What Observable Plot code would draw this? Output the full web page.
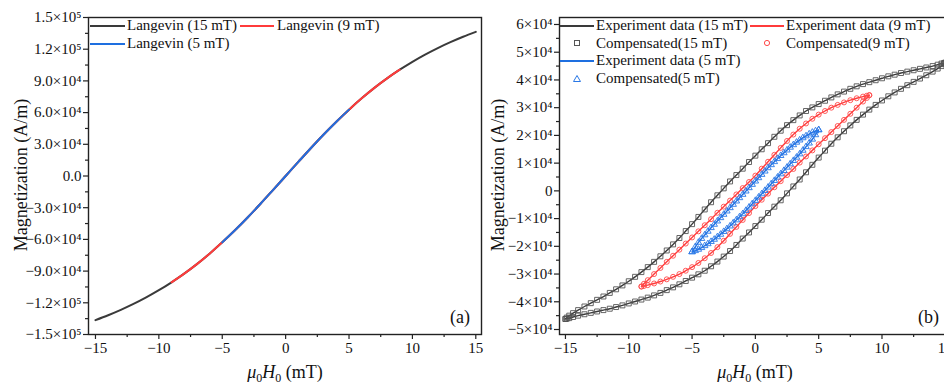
<!DOCTYPE html>
<html>
<head>
<meta charset="utf-8">
<script src="https://cdn.jsdelivr.net/npm/d3@7"></script>
<script src="https://cdn.jsdelivr.net/npm/@observablehq/plot@0.6"></script>
<style>
html, body { margin: 0; padding: 0; background: #fff; overflow: hidden; }
#wrap { position: relative; width: 944px; height: 385px; overflow: hidden; font-family: "Liberation Serif", "Times New Roman", serif; color: #111; }
.panel { position: absolute; top: 0; height: 385px; }
.panel svg { max-width: none !important; }
.yt { position: absolute; font-size: 18px; white-space: nowrap; transform: translate(-50%, -50%) rotate(-90deg); line-height: 1; }
.xt { position: absolute; font-size: 18px; white-space: nowrap; transform: translateX(-50%); line-height: 1; }
.xt sub { font-size: 12px; vertical-align: -4px; line-height: 0; }
.lg { position: absolute; font-size: 15px; white-space: nowrap; line-height: 17px; }
.sw { position: absolute; }
.tag { position: absolute; font-size: 18px; line-height: 1; }
</style>
</head>
<body>
<div id="wrap">
  <div id="left" class="panel" style="left:0px;width:484px"></div>
  <div id="right" class="panel" style="left:484px;width:470px"></div>

  <div class="yt" style="left:21px;top:175px">Magnetization (A/m)</div>
  <div class="yt" style="left:498px;top:175px">Magnetization (A/m)</div>
  <div class="xt" style="left:285px;top:363px"><i>μ</i><sub>0</sub><i>H</i><sub>0</sub> (mT)</div>
  <div class="xt" style="left:755px;top:363px"><i>μ</i><sub>0</sub><i>H</i><sub>0</sub> (mT)</div>
  <div class="tag" style="left:450px;top:308px">(a)</div>
  <div class="tag" style="left:918px;top:308px">(b)</div>

  <!-- legend (a) -->
  <svg class="sw" style="left:90px;top:21px" width="36" height="10"><line x1="0" y1="5" x2="35" y2="5" stroke="#3a3a3a" stroke-width="2"/></svg>
  <div class="lg" style="left:127px;top:17px">Langevin (15 mT)</div>
  <svg class="sw" style="left:240px;top:21px" width="36" height="10"><line x1="0" y1="5" x2="34" y2="5" stroke="#ff3b3b" stroke-width="2"/></svg>
  <div class="lg" style="left:277px;top:17px">Langevin (9 mT)</div>
  <svg class="sw" style="left:90px;top:39px" width="36" height="10"><line x1="0" y1="5" x2="35" y2="5" stroke="#1e6fe0" stroke-width="2"/></svg>
  <div class="lg" style="left:127px;top:35px">Langevin (5 mT)</div>

  <!-- legend (b) -->
  <svg class="sw" style="left:560px;top:21px" width="36" height="10"><line x1="0" y1="5" x2="34" y2="5" stroke="#3a3a3a" stroke-width="2"/></svg>
  <div class="lg" style="left:596px;top:17px">Experiment data (15 mT)</div>
  <svg class="sw" style="left:750px;top:21px" width="36" height="10"><line x1="0" y1="5" x2="34" y2="5" stroke="#ff3b3b" stroke-width="2"/></svg>
  <div class="lg" style="left:786px;top:17px">Experiment data (9 mT)</div>
  <svg class="sw" style="left:572px;top:38px" width="10" height="10"><rect x="2.5" y="2.5" width="5" height="5" fill="none" stroke="#555" stroke-width="1"/></svg>
  <div class="lg" style="left:596px;top:35px">Compensated(15 mT)</div>
  <svg class="sw" style="left:762px;top:38px" width="10" height="10"><circle cx="5" cy="5" r="2.6" fill="none" stroke="#ff4a4a" stroke-width="1"/></svg>
  <div class="lg" style="left:786px;top:35px">Compensated(9 mT)</div>
  <svg class="sw" style="left:560px;top:56px" width="36" height="10"><line x1="0" y1="5" x2="34" y2="5" stroke="#1e6fe0" stroke-width="2"/></svg>
  <div class="lg" style="left:596px;top:52px">Experiment data (5 mT)</div>
  <svg class="sw" style="left:571px;top:73px" width="12" height="12"><path d="M6,2.5 L9.5,8.5 L2.5,8.5 Z" fill="none" stroke="#2a78e6" stroke-width="1"/></svg>
  <div class="lg" style="left:596px;top:70px">Compensated(5 mT)</div>
</div>

<script>
// ---------------- data ----------------
// (a) Langevin curve, field in mT, magnetization in A/m
const langevinH = [-15,-14,-13,-12,-11,-10,-9,-8,-7,-6,-5,-4,-3,-2,-1,0,1,2,3,4,5,6,7,8,9,10,11,12,13,14,15];
const langevinM = [-136400,-131800,-126700,-121100,-114900,-108100,-100600,-92400,-83400,-73500,-62800,-51400,-39300,-26500,-13300,0,13300,26500,39300,51400,62800,73500,83400,92400,100600,108100,114900,121100,126700,131800,136400];
const langevinSeries = ["Langevin (15 mT)", "Langevin (9 mT)", "Langevin (5 mT)"];
const langevinLimits = [15, 9, 5];

// (b) hysteresis loops, field in mT, magnetization in 10^4 A/m
const h15Down = [15,14.9,14.7,14.4,14,13.5,13,12.5,12,11.5,11,10.5,10,9.5,9,8.5,8,7.5,7,6.5,6,5.5,5,4.5,4,3.5,3,2.5,2,1.5,1,0.5,0,-0.5,-1,-1.5,-2,-2.5,-3,-3.5,-4,-4.5,-5,-5.5,-6,-6.5,-7,-7.5,-8,-8.5,-9,-9.5,-10,-10.5,-11,-11.5,-12,-12.5,-13,-13.5,-14,-14.4,-14.7,-14.9,-15];
const m15Down = [4.62,4.61,4.59,4.55,4.50,4.45,4.40,4.35,4.30,4.25,4.19,4.13,4.06,3.99,3.92,3.85,3.77,3.68,3.58,3.48,3.37,3.25,3.13,3.01,2.88,2.72,2.55,2.37,2.17,1.95,1.72,1.50,1.27,1.04,0.80,0.57,0.34,0.09,-0.16,-0.41,-0.67,-0.94,-1.20,-1.45,-1.70,-1.93,-2.15,-2.36,-2.56,-2.75,-2.93,-3.10,-3.26,-3.41,-3.55,-3.68,-3.81,-3.93,-4.05,-4.17,-4.30,-4.41,-4.50,-4.57,-4.62];
const h15Up = [-15,-14.9,-14.7,-14.4,-14,-13.5,-13,-12.5,-12,-11.5,-11,-10.5,-10,-9.5,-9,-8.5,-8,-7.5,-7,-6.5,-6,-5.5,-5,-4.5,-4,-3.5,-3,-2.5,-2,-1.5,-1,-0.5,0,0.5,1,1.5,2,2.5,3,3.5,4,4.5,5,5.5,6,6.5,7,7.5,8,8.5,9,9.5,10,10.5,11,11.5,12,12.5,13,13.5,14,14.4,14.7,14.9,15];
const m15Up = [-4.62,-4.61,-4.59,-4.55,-4.50,-4.45,-4.40,-4.35,-4.30,-4.25,-4.19,-4.13,-4.06,-3.99,-3.92,-3.85,-3.77,-3.68,-3.58,-3.48,-3.37,-3.25,-3.13,-3.01,-2.88,-2.72,-2.55,-2.37,-2.17,-1.95,-1.72,-1.50,-1.27,-1.04,-0.80,-0.57,-0.34,-0.09,0.16,0.41,0.67,0.94,1.20,1.45,1.70,1.93,2.15,2.36,2.56,2.75,2.93,3.10,3.26,3.41,3.55,3.68,3.81,3.93,4.05,4.17,4.30,4.41,4.50,4.57,4.62];

const h9Down = [9,8.8,8.5,8,7.5,7,6.5,6,5.5,5,4.5,4,3.5,3,2.5,2,1.5,1,0.5,0,-0.5,-1,-1.5,-2,-2.5,-3,-3.5,-4,-4.5,-5,-5.5,-6,-6.5,-7,-7.5,-8,-8.5,-8.8,-9];
const m9Down = [3.45,3.43,3.40,3.34,3.27,3.19,3.10,3.00,2.88,2.75,2.60,2.43,2.24,2.03,1.80,1.55,1.30,1.05,0.80,0.55,0.32,0.10,-0.13,-0.35,-0.57,-0.79,-1.02,-1.24,-1.46,-1.68,-1.90,-2.12,-2.34,-2.56,-2.78,-3.00,-3.22,-3.35,-3.45];
const h9Up = [-9,-8.8,-8.5,-8,-7.5,-7,-6.5,-6,-5.5,-5,-4.5,-4,-3.5,-3,-2.5,-2,-1.5,-1,-0.5,0,0.5,1,1.5,2,2.5,3,3.5,4,4.5,5,5.5,6,6.5,7,7.5,8,8.5,8.8,9];
const m9Up = [-3.45,-3.43,-3.40,-3.34,-3.27,-3.19,-3.10,-3.00,-2.88,-2.75,-2.60,-2.43,-2.24,-2.03,-1.80,-1.55,-1.30,-1.05,-0.80,-0.55,-0.32,-0.10,0.13,0.35,0.57,0.79,1.02,1.24,1.46,1.68,1.90,2.12,2.34,2.56,2.78,3.00,3.22,3.35,3.45];

const h5Down = [5,4.75,4.5,4.25,4,3.75,3.5,3.25,3,2.75,2.5,2.25,2,1.75,1.5,1.25,1,0.75,0.5,0.25,0,-0.25,-0.5,-0.75,-1,-1.25,-1.5,-1.75,-2,-2.25,-2.5,-2.75,-3,-3.25,-3.5,-3.75,-4,-4.25,-4.5,-4.75,-5];
const m5Down = [2.20,2.16,2.11,2.05,1.98,1.91,1.83,1.75,1.66,1.57,1.47,1.37,1.27,1.16,1.05,0.94,0.83,0.71,0.59,0.47,0.35,0.23,0.11,-0.01,-0.13,-0.25,-0.37,-0.49,-0.61,-0.73,-0.85,-0.97,-1.09,-1.21,-1.33,-1.46,-1.59,-1.72,-1.86,-2.02,-2.20];
const h5Up = [-5,-4.75,-4.5,-4.25,-4,-3.75,-3.5,-3.25,-3,-2.75,-2.5,-2.25,-2,-1.75,-1.5,-1.25,-1,-0.75,-0.5,-0.25,0,0.25,0.5,0.75,1,1.25,1.5,1.75,2,2.25,2.5,2.75,3,3.25,3.5,3.75,4,4.25,4.5,4.75,5];
const m5Up = [-2.20,-2.16,-2.11,-2.05,-1.98,-1.91,-1.83,-1.75,-1.66,-1.57,-1.47,-1.37,-1.27,-1.16,-1.05,-0.94,-0.83,-0.71,-0.59,-0.47,-0.35,-0.23,-0.11,0.01,0.13,0.25,0.37,0.49,0.61,0.73,0.85,0.97,1.09,1.21,1.33,1.46,1.59,1.72,1.86,2.02,2.20];

// ticks
const xTicks = [-15,-10,-5,0,5,10,15];
const xTickLabels = ["\u221215","\u221210","\u22125","0","5","10","15"];
const xMinorTicks = [-12.5,-7.5,-2.5,2.5,7.5,12.5];
const leftYTicks = [-150000,-120000,-90000,-60000,-30000,0,30000,60000,90000,120000,150000];
const leftYLabels = ["\u22121.5\u00d710\u2075","\u22121.2\u00d710\u2075","\u22129.0\u00d710\u2074","\u22126.0\u00d710\u2074","\u22123.0\u00d710\u2074","0.0","3.0\u00d710\u2074","6.0\u00d710\u2074","9.0\u00d710\u2074","1.2\u00d710\u2075","1.5\u00d710\u2075"];
const leftYMinor = [-135000,-105000,-75000,-45000,-15000,15000,45000,75000,105000,135000];
const rightYTicks = [-5,-4,-3,-2,-1,0,1,2,3,4,5,6];
const rightYLabels = ["\u22125\u00d710\u2074","\u22124\u00d710\u2074","\u22123\u00d710\u2074","\u22122\u00d710\u2074","\u22121\u00d710\u2074","0","1\u00d710\u2074","2\u00d710\u2074","3\u00d710\u2074","4\u00d710\u2074","5\u00d710\u2074","6\u00d710\u2074"];
const rightYMinor = [-4.5,-3.5,-2.5,-1.5,-0.5,0.5,1.5,2.5,3.5,4.5,5.5];

// ---------------- styles ----------------
const colBlack = "#3a3a3a", colRed = "#ff3b3b", colBlue = "#1e6fe0";
const langevinColors = [colBlack, colRed, colBlue];

function labeler(ticks, labels) {
  const m = new Map(ticks.map((t, i) => [t, labels[i]]));
  return d => m.get(d);
}

const baseStyle = {fontFamily: "'Liberation Serif', 'Times New Roman', serif", fontSize: "15px", color: "#111", background: "transparent", overflow: "visible", maxWidth: "none"};

function axes(yTicks, yLabels, yMinor) {
  return [
    Plot.axisX({ticks: xTicks, tickFormat: labeler(xTicks, xTickLabels), tickSize: 5, tickPadding: 3, label: null, stroke: "#222", strokeWidth: 1.2}),
    Plot.axisX({ticks: xMinorTicks, tickFormat: () => "", tickSize: 3, label: null, stroke: "#222", strokeWidth: 1.2}),
    Plot.axisY({ticks: yTicks, tickFormat: labeler(yTicks, yLabels), tickSize: 5, tickPadding: 2, label: null, stroke: "#222", strokeWidth: 1.2}),
    Plot.axisY({ticks: yMinor, tickFormat: () => "", tickSize: 3, label: null, stroke: "#222", strokeWidth: 1.2}),
  ];
}

// ---------------- (a) ----------------
const langevinRows = [];
langevinSeries.forEach((s, k) => {
  langevinH.forEach((h, i) => {
    if (Math.abs(h) <= langevinLimits[k]) langevinRows.push({series: s, H: h, M: langevinM[i]});
  });
});

const left = Plot.plot({
  width: 484, height: 385,
  marginLeft: 88, marginRight: 3, marginTop: 17, marginBottom: 51,
  style: baseStyle,
  x: {domain: [-15.55, 15.45]},
  y: {domain: [-150000, 150000]},
  marks: [
    ...axes(leftYTicks, leftYLabels, leftYMinor),
    ...langevinSeries.map((s, k) => Plot.line(langevinRows.filter(d => d.series === s), {x: "H", y: "M", stroke: langevinColors[k], strokeWidth: 2, curve: "catmull-rom"})),
    Plot.frame({stroke: "#222", strokeWidth: 1.4})
  ]
});
document.getElementById("left").appendChild(left);

// ---------------- (b) ----------------
function loopRows(hd, md, hu, mu) {
  return hd.map((h, i) => ({H: h, M: md[i]})).concat(hu.map((h, i) => ({H: h, M: mu[i]})));
}
const loops = [
  {rows: loopRows(h15Down, m15Down, h15Up, m15Up), line: colBlack, mark: "#555", symbol: "square", r: 2.8},
  {rows: loopRows(h9Down, m9Down, h9Up, m9Up), line: colRed, mark: "#ff4a4a", symbol: "circle", r: 2.5},
  {rows: loopRows(h5Down, m5Down, h5Up, m5Up), line: colBlue, mark: "#2a78e6", symbol: "triangle", r: 2.4}
];

const right = Plot.plot({
  width: 470, height: 385,
  marginLeft: 75, marginRight: 3, marginTop: 17, marginBottom: 51,
  style: baseStyle,
  x: {domain: [-15.47, 15.49]},
  y: {domain: [-5.18, 6.252]},
  marks: [
    ...axes(rightYTicks, rightYLabels, rightYMinor),
    ...loops.flatMap(L => [
      Plot.line(L.rows, {x: "H", y: "M", stroke: L.line, strokeWidth: 1.4, curve: "catmull-rom"}),
      Plot.dot(L.rows, {x: "H", y: "M", symbol: L.symbol, r: L.r, stroke: L.mark, fill: "none", strokeWidth: 0.9})
    ]),
    Plot.frame({stroke: "#222", strokeWidth: 1.4})
  ]
});
document.getElementById("right").appendChild(right);
</script>
</body>
</html>
